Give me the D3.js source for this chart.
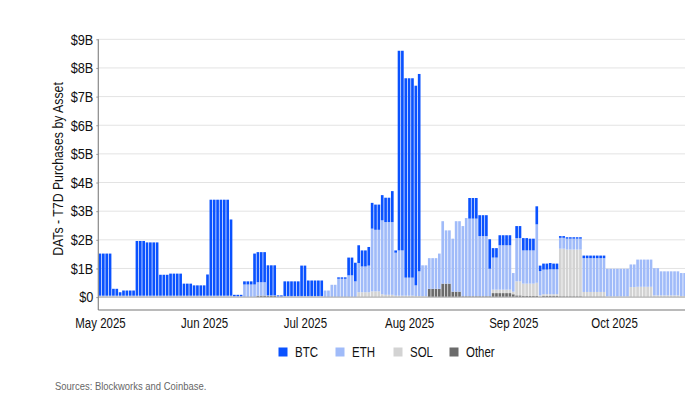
<!DOCTYPE html>
<html><head><meta charset="utf-8">
<script src="https://cdn.jsdelivr.net/npm/d3@7"></script>
<style>
body{margin:0;background:#fff;}
svg{display:block;font-family:"Liberation Sans Narrow","Arial Narrow","Liberation Sans",Arial,sans-serif;}
</style></head>
<body><svg id="c" width="685" height="396"></svg>
<script>
// Daily T7D purchases (in $B), May 1 2025 onward
const startDate = "2025-05-01";
const seriesNames = ["BTC","ETH","SOL","Other"];
const yTicks = [0,1,2,3,4,5,6,7,8,9];
const btc = [
1.47,1.47,1.47,1.47,0.24,0.24,0.12,0.18,0.18,0.18,
0.18,1.91,1.91,1.91,1.86,1.86,1.86,1.86,0.73,0.73,
0.73,0.77,0.77,0.77,0.77,0.42,0.42,0.42,0.36,0.36,
0.36,0.36,0.74,3.35,3.35,3.35,3.35,3.35,3.35,2.66,
0.05,0.05,0.05,0.11,0.11,0.11,1.08,1.05,1.05,1.05,
1.05,1.05,1.05,0.04,0.04,0.51,0.51,0.51,0.51,0.51,
1.06,1.06,0.54,0.54,0.54,0.54,0.54,0,0,0,
0,0.05,0.05,0.05,0.62,0.62,0.65,0.62,0.56,0.56,
0.65,0.90,0.88,0.88,0.88,0.85,0.85,1.08,0.08,6.97,
6.97,6.96,6.96,6.96,6.97,6.89,0,0,0,0,
0,0,0,0,0,0,0,0,0,0,
0.72,0.72,0.72,0.73,0.73,0.73,1.03,0.33,0.33,0.35,
0.35,0.35,0.35,0,0.42,0.42,0.43,0.43,0.41,0.41,
0.63,0.19,0.21,0.21,0.22,0.20,0.20,0.06,0.06,0.05,
0.05,0.05,0.05,0.05,0.09,0.09,0.09,0.09,0.09,0.09,
0.09,0,0,0,0,0,0,0,0,0,
0,0,0,0,0,0,0,0,0,0,
0,0,0,0,0];
const eth = [
0.03,0.03,0.03,0.03,0.03,0.03,0.03,0.03,0.03,0.03,
0.03,0.03,0.03,0.03,0.03,0.03,0.03,0.03,0.03,0.03,
0.03,0.03,0.03,0.03,0.03,0.03,0.03,0.03,0.03,0.03,
0.03,0.03,0.03,0.03,0.03,0.03,0.03,0.03,0.03,0.03,
0.03,0.03,0.03,0.44,0.44,0.44,0.44,0.47,0.47,0.47,
0.02,0.02,0.02,0.02,0.02,0.04,0.04,0.04,0.04,0.04,
0.04,0.04,0.04,0.04,0.04,0.04,0.04,0.23,0.23,0.43,
0.43,0.64,0.64,0.64,0.76,0.76,0.55,1.02,0.90,0.90,
0.93,2.19,2.15,2.15,2.58,2.54,2.54,2.54,1.50,1.58,
1.58,0.63,0.63,0.63,0.37,0.86,1.08,1.08,1.07,1.07,
1.07,1.23,2.18,1.86,1.86,1.85,2.46,2.46,2.45,2.73,
2.71,2.71,2.71,2.10,2.10,2.10,0.96,1.12,1.12,1.55,
1.55,1.55,1.55,0.65,1.51,1.51,1.16,1.16,1.16,1.16,
2.04,0.85,0.86,0.86,0.87,0.87,0.87,0.38,0.38,0.38,
0.38,0.38,0.38,0.38,1.18,1.18,1.18,1.18,1.18,1.18,
1.18,0.97,0.97,0.97,0.97,0.97,0.97,0.97,0.79,0.79,
0.95,0.95,0.95,0.95,0.95,0.95,0.95,0.84,0.84,0.84,
0.84,0.84,0.84,0.80,0.80];
const sol = [
0.02,0.02,0.02,0.02,0.02,0.02,0.02,0.02,0.02,0.02,
0.02,0.02,0.02,0.02,0.02,0.02,0.02,0.02,0.02,0.02,
0.02,0.02,0.02,0.02,0.02,0.02,0.02,0.02,0.02,0.02,
0.02,0.02,0.02,0.02,0.02,0.02,0.02,0.02,0.02,0.02,
0,0,0,0,0,0,0,0,0,0,
0,0,0,0,0,0,0,0,0,0,
0,0,0,0,0,0,0,0,0,0,
0,0,0,0,0,0,0,0.17,0.17,0.17,
0.17,0.20,0.20,0.20,0.10,0.08,0.08,0.08,0.05,0.05,
0.05,0.05,0.05,0.05,0.04,0.04,0.03,0.03,0,0,
0,0,0,0,0,0,0,0,0,0,
0,0,0,0,0,0,0,0.12,0.12,0.12,
0.12,0.12,0.12,0.09,0.49,0.49,0.43,0.43,0.43,0.43,
0.46,0.04,0.06,0.06,0.06,0.06,0.06,1.66,1.66,1.63,
1.63,1.63,1.63,1.63,0.16,0.16,0.16,0.16,0.16,0.16,
0.16,0.02,0.02,0.02,0.02,0.02,0.02,0.02,0.35,0.35,
0.36,0.36,0.36,0.36,0.36,0.06,0.06,0.06,0.06,0.06,
0.06,0.06,0.06,0.04,0.04];
const other = [
0,0,0,0,0,0,0,0,0,0,
0,0,0,0,0,0,0,0,0,0,
0,0,0,0,0,0,0,0,0,0,
0,0,0,0,0,0,0,0,0,0,
0,0,0,0,0,0,0,0.05,0.05,0.05,
0.04,0.04,0.04,0,0,0,0,0,0,0,
0,0,0,0,0,0,0,0,0,0,
0,0,0,0,0,0,0,0,0,0,
0,0,0,0,0,0,0,0,0,0,
0,0,0,0,0,0,0,0,0.29,0.29,
0.29,0.29,0.47,0.47,0.47,0.19,0.19,0.19,0.03,0.03,
0.03,0.03,0.03,0.03,0.03,0.03,0.03,0.14,0.14,0.14,
0.14,0.14,0.14,0.10,0.06,0.06,0.04,0.04,0.04,0.04,
0.04,0.02,0.04,0.04,0.04,0.04,0.04,0.03,0.03,0.03,
0.03,0.03,0.03,0.03,0.02,0.02,0.02,0.02,0.02,0.02,
0.02,0,0,0,0,0,0,0,0,0,
0,0,0,0,0,0,0,0,0,0,
0,0,0,0,0];
const colors = {BTC:"#0a52ff", ETH:"#a0bbf9", SOL:"#d3d3d3", Other:"#6b6b6b"};

const svg = d3.select("#c");
const parse = d3.timeParse("%Y-%m-%d");
const d0 = parse(startDate);
const dates = d3.timeDay.range(d0, d3.timeDay.offset(d0, btc.length));
const rows = dates.map((d,i)=>({date:d, BTC:btc[i], ETH:eth[i], SOL:sol[i], Other:other[i]}));

const pL = 98.3, pR = 686.3, pT = 39.3, pB = 310;
const x = d3.scaleTime().domain([d0, d3.timeDay.offset(d0, rows.length)]).range([pL, pR]);
const y = d3.scaleLinear().domain([-0.45, 9]).range([pB, pT]);

// emulate a narrow sans face
function narrow(sel, k){
  sel.each(function(){
    const t = d3.select(this);
    const tx = +t.attr("x") || 0;
    t.attr("transform", `translate(${tx},0) scale(${k},1) translate(${-tx},0)`);
  });
}

// gridlines
svg.append("g").selectAll("line").data(yTicks.filter(t=>t>0)).join("line")
  .attr("x1", pL).attr("x2", 685).attr("y1", d=>y(d)).attr("y2", d=>y(d))
  .attr("stroke", "#e3e3e3").attr("stroke-width", 1);

const stack = d3.stack().keys(["Other","SOL","ETH","BTC"]);
const layers = stack(rows);
const bw = x(d3.timeDay.offset(d0,1)) - x(d0);
svg.append("g").selectAll("g").data(layers).join("g")
  .attr("fill", d=>colors[d.key])
  .selectAll("rect").data(d=>d).join("rect")
  .attr("x", d=>x(d.data.date)+0.35)
  .attr("width", bw-0.7)
  .attr("y", d=>y(d[1]))
  .attr("height", d=>Math.max(0, y(d[0])-y(d[1])));

// zero line
svg.append("line").attr("x1", pL).attr("x2", 685).attr("y1", y(0)).attr("y2", y(0))
  .attr("stroke", "#b5b5b5").attr("stroke-width", 1.2);

// y axis
const yAxis = d3.axisLeft(y).tickValues(yTicks).tickSize(2).tickPadding(3)
  .tickFormat(d=> d===0 ? "$0" : "$"+d+"B");
const ga = svg.append("g").attr("transform", `translate(${pL},0)`).call(yAxis);
ga.select(".domain").remove();
ga.selectAll(".tick line").attr("stroke", "#999");
ga.selectAll("text").attr("font-size", 15).attr("fill", "#111").style("font-family","inherit");
narrow(ga.selectAll("text"), 0.85);
svg.append("line").attr("x1", pL).attr("x2", pL).attr("y1", pT).attr("y2", pB)
  .attr("stroke", "#888").attr("stroke-width", 1.2);
// x axis
svg.append("line").attr("x1", pL).attr("x2", 685).attr("y1", pB).attr("y2", pB)
  .attr("stroke", "#777").attr("stroke-width", 1.2);
const months = d3.timeMonth.range(d0, d3.timeDay.offset(d0, rows.length));
const xAxis = d3.axisBottom(x).tickValues(months.map(m=>d3.timeHour.offset(m,12)))
  .tickSize(0).tickPadding(8).tickFormat(d3.timeFormat("%b %Y"));
const gx = svg.append("g").attr("transform", `translate(0,${pB})`).call(xAxis);
gx.select(".domain").remove();
gx.selectAll("text").attr("font-size", 14).attr("fill", "#111").style("font-family","inherit");
narrow(gx.selectAll("text"), 0.82);

// y title
svg.append("text").attr("transform", "translate(63,169) rotate(-90) scale(0.82,1)")
  .attr("text-anchor", "middle").attr("font-size", 15).attr("fill", "#111")
  .text("DATs - T7D Purchases by Asset");

// legend
const legX = [283, 340, 398, 454];
const lg = svg.append("g").selectAll("g").data(seriesNames).join("g")
  .attr("transform", (d,i)=>`translate(${legX[i]},352)`);
lg.append("rect").attr("x", -4.5).attr("y", -4.5).attr("width", 9).attr("height", 9)
  .attr("fill", d=>colors[d]);
const lt = lg.append("text").attr("x", 12).attr("y", 0).attr("dy", "0.35em")
  .attr("font-size", 14).attr("fill", "#111").text(d=>d);
narrow(lt, 0.82);

// source
const src = svg.append("text").attr("x", 55).attr("y", 390).attr("font-size", 11).attr("fill", "#666")
  .text("Sources: Blockworks and Coinbase.");
narrow(src, 0.86);
</script></body></html>
